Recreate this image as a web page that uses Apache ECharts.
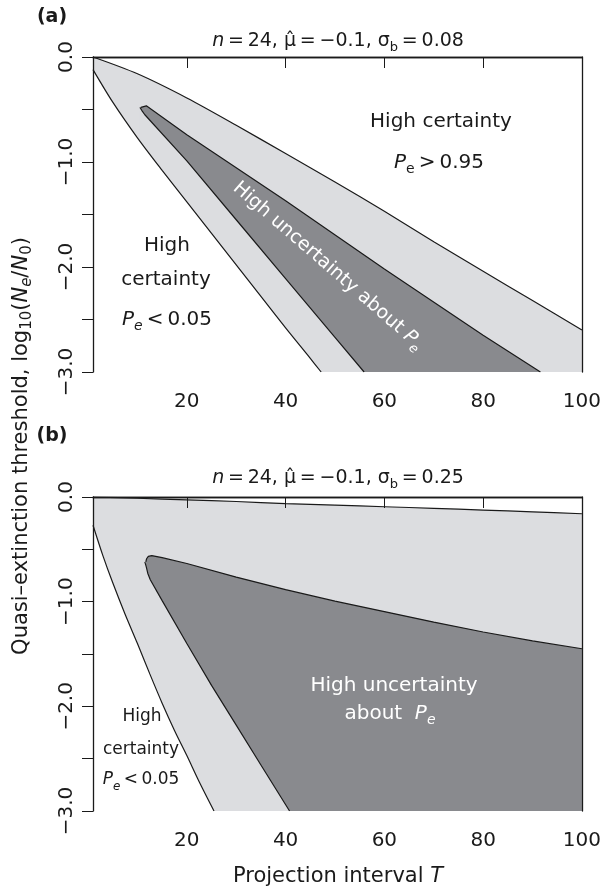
<!DOCTYPE html>
<html lang="en">
<head>
    <meta charset="UTF-8">
    <title>quasi-extinction certainty regions</title>
    <script src="https://cdn.jsdelivr.net/npm/echarts@6/dist/echarts.min.js"></script>
    <style>html, body { margin: 0; background: #fff; }</style>
</head>
<body>
<div id="chart" style="width: 604px; height: 894px;"></div>
<script type="text/javascript">
    // panel (a), sigma_b = 0.08 : [T, log10(Ne/N0)]
    let upperA = [[1, 0], [10, -0.16], [20, -0.39], [30, -0.65], [40, -0.92], [50, -1.19], [60, -1.47], [70, -1.76], [80, -2.04], [90, -2.32], [100, -2.60]];
    let lowerA = [[1, -0.12], [5, -0.43], [10, -0.77], [15, -1.08], [20, -1.38], [25, -1.68], [30, -1.98], [35, -2.28], [40, -2.58], [45, -2.87], [47.2, -3.0]];
    let coreTopA = [[10.7, -0.48], [11.1, -0.463], [11.8, -0.465], [20, -0.74], [40, -1.37], [60, -2.02], [80, -2.65], [91.6, -3.0]];
    let coreBotA = [[10.5, -0.48], [10.7, -0.48], [10.9, -0.51], [11.5, -0.55], [20, -0.99], [30, -1.55], [40, -2.11], [50, -2.67], [55.9, -3.0]];

    // panel (b), sigma_b = 0.25
    let upperB = [[1, 0], [10, -0.012], [20, -0.027], [30, -0.043], [40, -0.063], [50, -0.078], [60, -0.093], [70, -0.108], [80, -0.125], [90, -0.142], [100, -0.16]];
    let lowerB = [[1, -0.27], [3, -0.56], [5, -0.82], [7.5, -1.12], [10, -1.40], [12.5, -1.69], [15, -1.97], [17.5, -2.23], [20, -2.47], [22.5, -2.72], [25.5, -3.0]];
    let coreTopB = [[11.7, -0.62], [11.85, -0.59], [12.2, -0.568], [12.9, -0.56], [15, -0.58], [20, -0.635], [30, -0.765], [40, -0.885], [50, -0.995], [60, -1.095], [70, -1.195], [80, -1.29], [90, -1.375], [100, -1.45]];
    let coreBotB = [[11.5, -0.62], [11.7, -0.62], [11.8, -0.67], [12.1, -0.73], [12.6, -0.79], [15, -0.99], [20, -1.40], [25, -1.80], [30, -2.18], [35, -2.56], [40.8, -3.0]];

    let xTicks = [20, 40, 60, 80, 100];
    let yTicks = [-3, -2.5, -2, -1.5, -1, -0.5, 0];
    let yLabels = [-3, -2, -1, 0];

    const INK = '#1a1a1a';
    const LIGHT = '#dcdde0';
    const DARK = '#898a8e';
    const FONT = 'DejaVu Sans';

    function richFor(color, size) {
        let small = Math.round(size * 0.7);
        return {
            i: {fontStyle: 'italic', fontSize: size, lineHeight: 26, fontFamily: FONT, fill: color, color: color},
            sub: {fontSize: small, lineHeight: 12, verticalAlign: 'bottom', fontFamily: FONT, fill: color, color: color},
            isub: {fontSize: small, lineHeight: 12, verticalAlign: 'bottom', fontStyle: 'italic', fontFamily: FONT, fill: color, color: color}
        };
    }

    function area(data, color, gi, smooth) {
        return {
            type: 'line', xAxisIndex: gi * 2, yAxisIndex: gi * 2,
            data: data, symbol: 'none', smooth: smooth ? 0.3 : false, clip: true,
            lineStyle: {color: INK, width: 1.2},
            areaStyle: {color: color, opacity: 1, origin: 'start'},
            silent: true
        };
    }

    function xAxes(gi) {
        return [{
            type: 'value', gridIndex: gi, min: 1, max: 100, z: 10,
            axisLine: {show: true, lineStyle: {color: INK, width: 1.3}},
            axisTick: {show: true, customValues: xTicks, length: 11, lineStyle: {color: INK, width: 1}},
            axisLabel: {customValues: xTicks, color: INK, fontSize: 20, fontFamily: FONT, margin: 20},
            splitLine: {show: false}
        }, {
            type: 'value', gridIndex: gi, min: 1, max: 100, position: 'top', z: 10,
            axisLine: {show: true, onZero: false, lineStyle: {color: INK, width: 1.3}},
            axisTick: {show: false}, axisLabel: {show: false}, splitLine: {show: false}
        }];
    }

    function yAxes(gi) {
        return [{
            type: 'value', gridIndex: gi, min: -3, max: 0, z: 10,
            axisLine: {show: true, onZero: false, lineStyle: {color: INK, width: 1.3}},
            axisTick: {show: true, customValues: yTicks, length: 11, lineStyle: {color: INK, width: 1}},
            axisLabel: {
                customValues: yLabels, rotate: 90, color: INK, fontSize: 20, fontFamily: FONT, margin: 16,
                formatter: v => v === 0 ? '0.0' : '\u2212' + Math.abs(v).toFixed(1)
            },
            splitLine: {show: false}
        }, {
            type: 'value', gridIndex: gi, min: -3, max: 0, position: 'right', z: 10,
            axisLine: {show: true, onZero: false, lineStyle: {color: INK, width: 1.3}},
            axisTick: {show: false}, axisLabel: {show: false}, splitLine: {show: false}
        }];
    }

    function label(text, x, y, opts) {
        opts = opts || {};
        let color = opts.color || INK;
        let size = opts.size || 20;
        return {
            type: 'text', x: x, y: y, rotation: opts.rotation || 0, z: 20, silent: true,
            style: {
                text: text, fill: color, fontSize: size, fontFamily: FONT,
                fontWeight: opts.bold ? 'bold' : 'normal', lineHeight: 26,
                align: 'center', verticalAlign: 'middle', rich: richFor(color, size)
            }
        };
    }

    let myChart = echarts.init(document.getElementById('chart'));
    let option = {
        animation: false,
        backgroundColor: '#fff',
        grid: [
            {left: 93, right: 20, top: 57, height: 315},
            {left: 93, right: 20, top: 497, height: 314}
        ],
        xAxis: xAxes(0).concat(xAxes(1)),
        yAxis: yAxes(0).concat(yAxes(1)),
        series: [
            area(upperA, LIGHT, 0, true),
            area(coreTopA, DARK, 0, false),
            area(coreBotA, LIGHT, 0, false),
            area(lowerA, '#fff', 0, true),
            area(upperB, LIGHT, 1, true),
            area(coreTopB, DARK, 1, false),
            area(coreBotB, LIGHT, 1, false),
            area(lowerB, '#fff', 1, true)
        ],
        graphic: [
            label('(a)', 52, 17, {bold: true, size: 19}),
            label('{i|n}\u2009=\u200924, \u03bc\u0302\u2009=\u2009\u22120.1, \u03c3{sub|b}\u2009=\u20090.08', 338, 41, {size: 19}),
            label('High certainty', 441, 122),
            label('{i|P}{sub|e}\u2009>\u20090.95', 439, 163),
            label('High', 167, 246),
            label('certainty', 166, 280),
            label('{i|P}{isub|e}\u2009<\u20090.05', 167, 320),
            label('High uncertainty about {i|P}{isub|e}', 328, 266, {color: '#fff', size: 19, rotation: -0.716}),

            label('(b)', 52, 436, {bold: true, size: 19}),
            label('{i|n}\u2009=\u200924, \u03bc\u0302\u2009=\u2009\u22120.1, \u03c3{sub|b}\u2009=\u20090.25', 338, 478, {size: 19}),
            label('High uncertainty', 394, 686, {color: '#fff'}),
            label('about  {i|P}{isub|e}', 390, 714, {color: '#fff'}),
            label('High', 142, 717, {size: 17}),
            label('certainty', 141, 750, {size: 17}),
            label('{i|P}{isub|e}\u2009<\u20090.05', 141, 780, {size: 17}),

            label('Quasi\u2013extinction threshold, log{sub|10}({i|N}{isub|e}/{i|N}{sub|0})', 22, 446, {rotation: Math.PI / 2, size: 21}),
            label('Projection interval {i|T}', 338, 877, {size: 21})
        ]
    };
    myChart.setOption(option);
</script>
</body>
</html>
